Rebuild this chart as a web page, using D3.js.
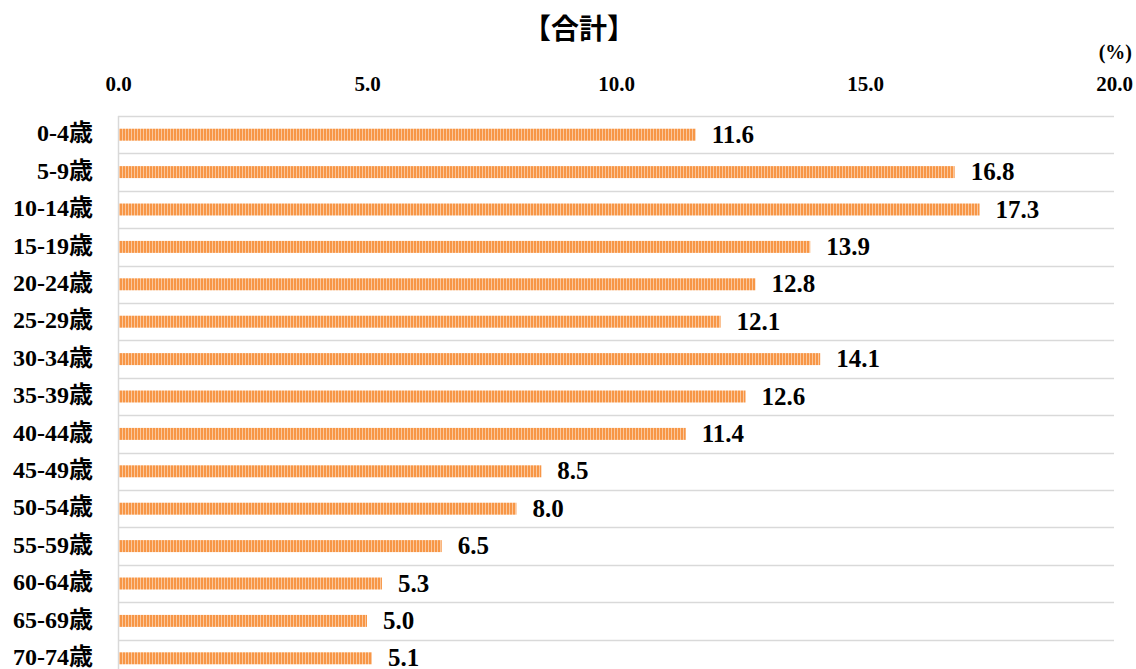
<!DOCTYPE html>
<html>
<head>
<meta charset="utf-8">
<script src="https://cdn.jsdelivr.net/npm/d3@7"></script>
<style>
  html, body { margin: 0; padding: 0; background: #fff; }
  svg { display: block; }
  text { font-family: "Liberation Serif", "Noto Sans CJK JP", serif; font-weight: bold; fill: #000; }
</style>
</head>
<body>
<svg id="chart" width="1136" height="669"></svg>
<script>
// Age groups and their share (%)
const categories = ["0-4歳", "5-9歳", "10-14歳", "15-19歳", "20-24歳", "25-29歳", "30-34歳",
  "35-39歳", "40-44歳", "45-49歳", "50-54歳", "55-59歳", "60-64歳", "65-69歳", "70-74歳"];
const values = [11.6, 16.8, 17.3, 13.9, 12.8, 12.1, 14.1, 12.6, 11.4, 8.5, 8.0, 6.5, 5.3, 5.0, 5.1];
const tickValues = [0, 5, 10, 15, 20];
const title = "【合計】";
const unit = "(%)";

const svg = d3.select("#chart");

const plotLeft = 118, plotRight = 1114, plotTop = 116, rowStep = 37.4;

const x = d3.scaleLinear().domain([0, 20]).range([plotLeft, plotRight]);
const y = d3.scaleBand().domain(categories)
  .range([plotTop, plotTop + rowStep * categories.length])
  .paddingInner(0.68).paddingOuter(0.34);

// striped fill for the bars
const defs = svg.append("defs");
const pat = defs.append("pattern")
  .attr("id", "stripe").attr("patternUnits", "userSpaceOnUse")
  .attr("width", 3).attr("height", 10);
pat.append("rect").attr("width", 3).attr("height", 10).attr("fill", "#F79646");
pat.append("rect").attr("x", 2).attr("width", 1).attr("height", 10).attr("fill", "#FBC79C");

// horizontal grid lines at band edges
const edges = d3.range(categories.length + 1).map(i => plotTop + i * rowStep);
svg.append("g").selectAll("line").data(edges).join("line")
  .attr("x1", plotLeft).attr("x2", plotRight)
  .attr("y1", d => Math.round(d) + 0.5).attr("y2", d => Math.round(d) + 0.5)
  .attr("stroke", "#d9d9d9").attr("stroke-width", 1.5);

// vertical axis line
svg.append("line")
  .attr("x1", plotLeft + 0.5).attr("x2", plotLeft + 0.5)
  .attr("y1", plotTop).attr("y2", 669)
  .attr("stroke", "#d9d9d9").attr("stroke-width", 1.5);

// top axis labels
const axis = d3.axisTop(x).tickValues(tickValues).tickFormat(d3.format(".1f")).tickSize(0);
const gAxis = svg.append("g").attr("transform", "translate(0,94)").call(axis);
gAxis.select(".domain").remove();
gAxis.selectAll("text").attr("font-size", 21).attr("font-family", "Liberation Serif, serif")
  .attr("font-weight", "bold").attr("fill", "#000");

// bars
svg.append("g").selectAll("rect").data(values).join("rect")
  .attr("x", x(0) + 1)
  .attr("y", (d, i) => y(categories[i]))
  .attr("width", d => x(d) - x(0) - 1)
  .attr("height", y.bandwidth())
  .attr("fill", "url(#stripe)");

// value labels
svg.append("g").selectAll("text").data(values).join("text")
  .attr("x", d => x(d) + 16)
  .attr("y", (d, i) => y(categories[i]) + y.bandwidth() / 2)
  .attr("dy", "0.32em")
  .attr("font-size", 25)
  .text(d => d.toFixed(1));

// category labels
svg.append("g").selectAll("text").data(categories).join("text")
  .attr("x", 93)
  .attr("y", d => y(d) + y.bandwidth() / 2)
  .attr("dy", "0.28em")
  .attr("text-anchor", "end")
  .attr("font-size", 24)
  .text(d => d);

// title and unit
svg.append("text").attr("x", 579).attr("y", 39).attr("text-anchor", "middle")
  .attr("font-size", 28).text(title);
svg.append("text").attr("x", 1132).attr("y", 59).attr("text-anchor", "end")
  .attr("font-size", 20).text(unit);
</script>
</body>
</html>
